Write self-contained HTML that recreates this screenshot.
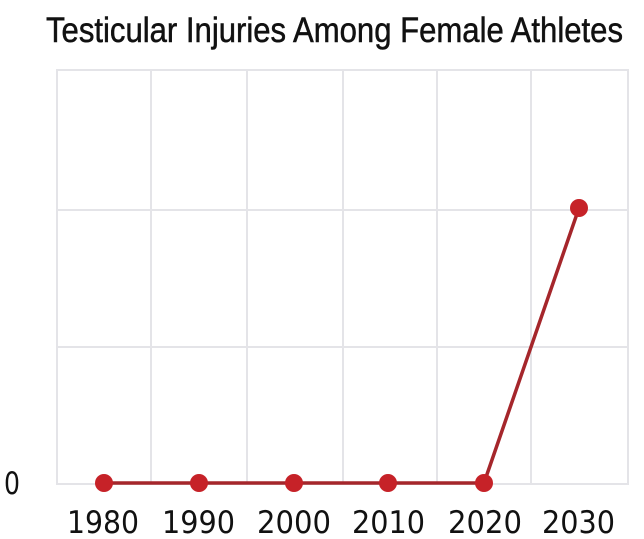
<!DOCTYPE html>
<html><head><meta charset="utf-8"><style>
html,body{margin:0;padding:0;background:#fff;}
svg{display:block;}
</style></head><body>
<svg width="644" height="539" viewBox="0 0 644 539" xmlns="http://www.w3.org/2000/svg">
<rect width="644" height="539" fill="#fff"/>
<text x="46" y="42" font-family="Liberation Sans, sans-serif" font-size="35" fill="#111" stroke="#111" stroke-width="0.5" textLength="577" lengthAdjust="spacingAndGlyphs">Testicular Injuries Among Female Athletes</text>
<g stroke="#e4e4e8" stroke-width="2" fill="none">
<rect x="57" y="70" width="571" height="414"/>
<line x1="151" y1="70" x2="151" y2="484"/>
<line x1="247" y1="70" x2="247" y2="484"/>
<line x1="343" y1="70" x2="343" y2="484"/>
<line x1="437" y1="70" x2="437" y2="484"/>
<line x1="531" y1="70" x2="531" y2="484"/>
<line x1="57" y1="210" x2="628" y2="210"/>
<line x1="57" y1="347" x2="628" y2="347"/>
</g>
<polyline points="104,483 199,483 294,483 388,483 484,483 579,208" fill="none" stroke="#a5262b" stroke-width="3.5" stroke-linejoin="round"/>
<g fill="#c62228">
<circle cx="104" cy="483" r="9"/>
<circle cx="199" cy="483" r="9"/>
<circle cx="294" cy="483" r="9"/>
<circle cx="388" cy="483" r="9"/>
<circle cx="484" cy="483" r="9"/>
<circle cx="579" cy="208" r="9"/>
</g>
<g font-family="DejaVu Sans, sans-serif" font-size="31" fill="#111">
<text x="4" y="494" textLength="16" lengthAdjust="spacingAndGlyphs">0</text>
<text x="67" y="533" textLength="72" lengthAdjust="spacingAndGlyphs">1980</text>
<text x="162" y="533" textLength="73" lengthAdjust="spacingAndGlyphs">1990</text>
<text x="257" y="533" textLength="74" lengthAdjust="spacingAndGlyphs">2000</text>
<text x="352" y="533" textLength="73" lengthAdjust="spacingAndGlyphs">2010</text>
<text x="448" y="533" textLength="74" lengthAdjust="spacingAndGlyphs">2020</text>
<text x="542" y="533" textLength="73" lengthAdjust="spacingAndGlyphs">2030</text>
</g>
</svg>
</body></html>
